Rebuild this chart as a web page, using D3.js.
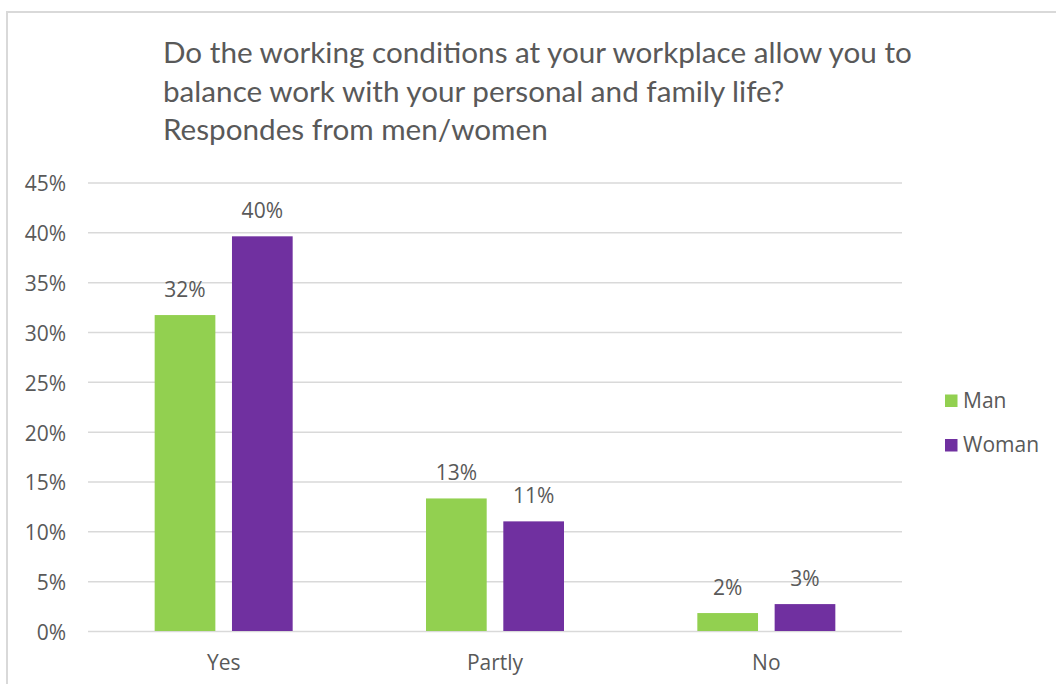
<!DOCTYPE html>
<html>
<head>
<meta charset="utf-8">
<script src="https://cdn.jsdelivr.net/npm/d3@7"></script>
<style>
  html, body { margin: 0; padding: 0; background: #fff; }
  svg { display: block; }
</style>
</head>
<body>
<svg id="chart" width="1056" height="684"></svg>
<script>
// Survey answers, share of respondents by gender
const categories = ["Yes", "Partly", "No"];
const series = ["Man", "Woman"];
const manValues = [0.317, 0.133, 0.018];
const womanValues = [0.396, 0.110, 0.027];
const yTicks = [0, 0.05, 0.10, 0.15, 0.20, 0.25, 0.30, 0.35, 0.40, 0.45];
const titleLines = [
  "Do the working conditions at your workplace allow you to",
  "balance work with your personal and family life?",
  "Respondes from men/women"
];

const colors = { Man: "#92D050", Woman: "#7030A0" };
const textColor = "#595959";
const gridColor = "#D9D9D9";
const labelFont = "'Open Sans', sans-serif";

const svg = d3.select("#chart");
const W = 1056, H = 684;
const plot = { left: 88, right: 902, top: 182.5, bottom: 631 };

// chart frame
svg.append("rect")
  .attr("x", 7).attr("y", 12)
  .attr("width", W + 20).attr("height", H + 20)
  .attr("fill", "#fff")
  .attr("stroke", gridColor)
  .attr("stroke-width", 2);

// title
const title = svg.append("g").attr("fill", textColor)
  .style("font-family", "Lato, sans-serif");
const titleBaselines = [63.3, 101.7, 140];
const titleEls = titleLines.map((t, i) =>
  title.append("text").attr("x", 163).attr("y", titleBaselines[i])
    .style("font-size", "27px").text(t));
// size the title so the first line spans its intended width
const w0 = titleEls[0].node().getComputedTextLength();
const titleSize = 27 * 749 / w0;
titleEls.forEach(el => el.style("font-size", titleSize + "px"));

// scales
const y = d3.scaleLinear().domain([0, 0.45]).range([plot.bottom, plot.top]);
const x = d3.scaleBand().domain(categories).range([plot.left, plot.right]).padding(0);
const groupW = 138;
const xs = d3.scaleBand().domain(series).range([-groupW / 2, groupW / 2]).paddingInner(0.215);

// y axis with gridlines
const yAxis = svg.append("g")
  .attr("transform", `translate(${plot.left},0)`)
  .call(d3.axisLeft(y).tickValues(yTicks).tickFormat(d3.format(".0%"))
    .tickSize(-(plot.right - plot.left)).tickPadding(22));
yAxis.select(".domain").remove();
yAxis.selectAll(".tick line").attr("stroke", gridColor).attr("stroke-width", 1.5);
yAxis.selectAll(".tick text")
  .attr("fill", textColor)
  .attr("dy", "0.4em")
  .style("font-family", labelFont).style("font-size", "21px");

// x axis labels
const xAxis = svg.append("g")
  .attr("transform", `translate(0,${plot.bottom})`)
  .call(d3.axisBottom(x).tickSize(0).tickPadding(24));
xAxis.select(".domain").remove();
xAxis.selectAll(".tick text")
  .attr("fill", textColor)
  .style("font-family", labelFont).style("font-size", "21px");

// bars
const rows = categories.map((c, i) => ({
  category: c,
  values: [
    { key: "Man", value: manValues[i] },
    { key: "Woman", value: womanValues[i] }
  ]
}));

const groups = svg.append("g").selectAll("g")
  .data(rows).join("g")
  .attr("transform", d => `translate(${x(d.category) + x.bandwidth() / 2},0)`);

groups.selectAll("rect")
  .data(d => d.values).join("rect")
  .attr("x", d => xs(d.key))
  .attr("width", xs.bandwidth())
  .attr("y", d => y(d.value))
  .attr("height", d => y(0) - y(d.value))
  .attr("fill", d => colors[d.key]);

groups.selectAll("text")
  .data(d => d.values).join("text")
  .attr("x", d => xs(d.key) + xs.bandwidth() / 2)
  .attr("y", d => y(d.value) - 18)
  .attr("text-anchor", "middle")
  .attr("fill", textColor)
  .style("font-family", labelFont).style("font-size", "21px")
  .text(d => d3.format(".0%")(d.value));

// legend
const legend = svg.append("g").attr("transform", "translate(945,394.5)");
const items = legend.selectAll("g").data(series).join("g")
  .attr("transform", (d, i) => `translate(0,${i * 44.5})`);
items.append("rect").attr("width", 12.5).attr("height", 12.5)
  .attr("fill", d => colors[d]);
items.append("text").attr("x", 18).attr("y", 13.3)
  .attr("fill", textColor)
  .style("font-family", labelFont).style("font-size", "21px")
  .text(d => d);
</script>
</body>
</html>
